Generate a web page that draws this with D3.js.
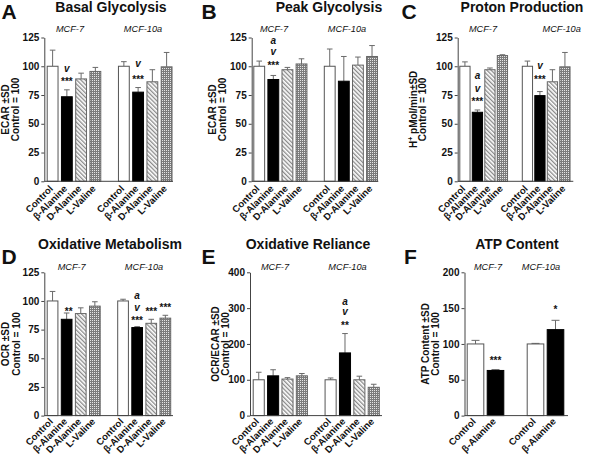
<!DOCTYPE html>
<html>
<head>
<meta charset="utf-8">
<script src="https://cdn.jsdelivr.net/npm/d3@7"></script>
<style>
  html, body { margin: 0; padding: 0; background: #fff; }
  svg { display: block; }
  text { font-family: "Liberation Sans", Arial, Helvetica, sans-serif; fill: #111; }
</style>
</head>
<body>
<svg id="chart" width="600" height="454"></svg>
<script>
// ---------------- DATA ----------------
const cellLines = ["MCF-7", "MCF-10a"];
const treatments = ["Control", "β-Alanine", "D-Alanine", "L-Valine"];
const treatmentsATP = ["Control", "β-Alanine"];

const ticks125 = [0, 25, 50, 75, 100, 125];
const ticks400 = [0, 100, 200, 300, 400];
const ticks200 = [0, 50, 100, 150, 200];

// A: Basal Glycolysis (mean, SD) per cell line
const basalMCF7 = [100, 73.5, 89, 95.5];
const basalMCF7SD = [14, 6, 5, 3.5];
const basalMCF10a = [100, 77.5, 86.5, 99.5];
const basalMCF10aSD = [4, 4, 10.5, 12.5];

// B: Peak Glycolysis
const peakMCF7 = [100, 88.5, 97, 102];
const peakMCF7SD = [4.5, 3.5, 2, 4.5];
const peakMCF10a = [100, 87, 101, 108.5];
const peakMCF10aSD = [15, 21.5, 7, 9.5];

// C: Proton Production
const protonMCF7 = [100, 60, 97, 109.3];
const protonMCF7SD = [3.8, 2, 1.5, 0.7];
const protonMCF10a = [100, 74.5, 86.5, 99.5];
const protonMCF10aSD = [4.5, 3.5, 10.5, 12.5];

// D: Oxidative Metabolism
const oxMCF7 = [100, 84, 89, 95.5];
const oxMCF7SD = [8.3, 5.5, 5, 3.8];
const oxMCF10a = [100, 76.8, 80.5, 85];
const oxMCF10aSD = [1.5, 0.8, 3.5, 2.5];

// E: Oxidative Reliance
const relMCF7 = [100, 111, 102, 111];
const relMCF7SD = [21, 17, 4, 6.5];
const relMCF10a = [100, 175, 100, 79];
const relMCF10aSD = [5, 54, 10, 8.5];

// F: ATP Content
const atpMCF7 = [100, 63];
const atpMCF7SD = [5, 1.2];
const atpMCF10a = [100, 120];
const atpMCF10aSD = [0.8, 13];

// significance marks: [cell line index, treatment index, text, value of baseline]
const basalMarks = [[0, 1, "v", 95.4], [0, 1, "***", 83.4], [1, 1, "v", 99.5], [1, 1, "***", 85.8]];
const peakMarks = [[0, 1, "a", 119.3], [0, 1, "v", 109.7], [0, 1, "***", 97.4]];
const protonMarks = [[0, 1, "a", 88.5], [0, 1, "v", 78], [0, 1, "***", 66], [1, 1, "v", 97.7], [1, 1, "***", 85.8]];
const oxMarks = [[0, 1, "**", 88], [1, 1, "a", 101.5], [1, 1, "v", 91], [1, 1, "***", 80], [1, 2, "***", 87.8], [1, 3, "***", 90.9]];
const relMarks = [[1, 1, "a", 310], [1, 1, "v", 280], [1, 1, "**", 242.5]];
const atpMarks = [[0, 1, "***", 72.1], [1, 1, "*", 143.2]];

// ---------------- LAYOUT ----------------
const svg = d3.select("#chart");
const defs = svg.append("defs");

// D-Alanine: diagonal hatch
const hatch = defs.append("pattern").attr("id", "hatch")
  .attr("patternUnits", "userSpaceOnUse").attr("width", 3).attr("height", 3)
  .attr("patternTransform", "rotate(-45)");
hatch.append("rect").attr("width", 3).attr("height", 3).attr("fill", "#ffffff");
hatch.append("rect").attr("width", 1.3).attr("height", 3).attr("fill", "#8a8a8a");

// L-Valine: dotted grid
const dots = defs.append("pattern").attr("id", "dots")
  .attr("patternUnits", "userSpaceOnUse").attr("width", 2).attr("height", 2);
dots.append("rect").attr("width", 2).attr("height", 2).attr("fill", "#7c7c7c");
dots.append("rect").attr("width", 1).attr("height", 1).attr("fill", "#e6e6e6");

const fills = {
  "Control": "#ffffff",
  "β-Alanine": "#000000",
  "D-Alanine": "url(#hatch)",
  "L-Valine": "url(#dots)"
};
const strokes = {
  "Control": "#555",
  "β-Alanine": "#000",
  "D-Alanine": "#666",
  "L-Valine": "#666"
};

function drawPanel(cfg) {
  const g = svg.append("g");
  const cats = cfg.cats;
  // slots: line0 categories, gap, line1 categories
  const slots = [];
  cellLines.forEach((cl, i) => {
    cats.forEach(c => slots.push(cl + "|" + c));
    if (i === 0) slots.push("gap");
  });
  const n = slots.length;
  const x = d3.scaleBand().domain(slots)
    .range([cfg.barStart, cfg.barStart + cfg.step * (n - cfg.inner)])
    .paddingInner(cfg.inner).paddingOuter(0);
  const y = d3.scaleLinear().domain([0, d3.max(cfg.ticks)]).range([cfg.yBot, cfg.yTop]);

  const data = [];
  cellLines.forEach((cl, i) => {
    cats.forEach((c, j) => {
      data.push({ key: cl + "|" + c, cat: c, v: cfg.means[i][j], sd: cfg.sds[i][j] });
    });
  });

  // error bars (upper only)
  const eb = g.append("g").attr("stroke", "#6a6a6a").attr("stroke-width", 1).attr("fill", "none");
  data.forEach(d => {
    const cx = x(d.key) + x.bandwidth() / 2;
    const cap = cfg.cap;
    eb.append("line").attr("x1", cx).attr("x2", cx).attr("y1", y(d.v)).attr("y2", y(d.v + d.sd));
    eb.append("line").attr("x1", cx - cap).attr("x2", cx + cap)
      .attr("y1", y(d.v + d.sd)).attr("y2", y(d.v + d.sd));
  });

  // bars
  g.append("g").selectAll("rect").data(data).join("rect")
    .attr("x", d => x(d.key) + 0.5)
    .attr("y", d => y(d.v))
    .attr("width", x.bandwidth() - 1)
    .attr("height", d => y(0) - y(d.v))
    .attr("fill", d => fills[d.cat])
    .attr("stroke", d => strokes[d.cat])
    .attr("stroke-width", 1);

  // y axis
  const ya = g.append("g").attr("transform", `translate(${cfg.x0},0)`)
    .call(d3.axisLeft(y).tickValues(cfg.ticks).tickSize(3).tickSizeOuter(0).tickPadding(2));
  ya.select(".domain").attr("stroke", "#444");
  ya.selectAll(".tick line").attr("stroke", "#444");
  ya.selectAll(".tick text").attr("font-size", 10).attr("font-weight", "bold")
    .attr("font-family", '"Liberation Sans", Arial, sans-serif').attr("fill", "#111");

  // x axis baseline
  g.append("line").attr("x1", cfg.x0).attr("x2", cfg.x1)
    .attr("y1", y(0)).attr("y2", y(0)).attr("stroke", "#444").attr("stroke-width", 1);

  // x axis labels
  const xa = g.append("g").attr("transform", `translate(0,${y(0)})`)
    .call(d3.axisBottom(x).tickValues(slots.filter(s => s !== "gap"))
      .tickFormat(s => s.split("|")[1]).tickSize(0));
  xa.select(".domain").remove();
  xa.selectAll(".tick text")
    .attr("x", 0).attr("y", 0).attr("dy", 0)
    .attr("transform", `translate(1,${cfg.xlabDy}) rotate(-45)`)
    .style("text-anchor", "end")
    .attr("font-size", 9.6).attr("font-weight", "bold")
    .attr("font-family", '"Liberation Sans", Arial, sans-serif').attr("fill", "#111");

  // significance marks
  cfg.marks.forEach(m => {
    const key = cellLines[m[0]] + "|" + cats[m[1]];
    const cx = x(key) + x.bandwidth() / 2 + (m[2] === "**" && m[0] === 0 && cfg.letter === "D" ? 2 : 0);
    const isLetter = (m[2] === "a" || m[2] === "v");
    g.append("text").attr("x", cx).attr("y", y(m[3]))
      .attr("text-anchor", "middle")
      .attr("font-size", 10)
      .attr("font-weight", "bold")
      .attr("font-style", isLetter ? "italic" : "normal")
      .text(m[2]);
  });

  // cell line subtitles
  cellLines.forEach((cl, i) => {
    g.append("text").attr("x", cfg.subX[i]).attr("y", cfg.subY)
      .attr("text-anchor", "middle").attr("font-size", 9.2).attr("font-style", "italic")
      .attr("fill", "#222").text(cl);
  });

  // title
  g.append("text").attr("x", cfg.titleX).attr("y", cfg.titleY)
    .attr("text-anchor", "middle").attr("font-size", 14).attr("font-weight", "bold")
    .text(cfg.title);

  // panel letter
  g.append("text").attr("x", cfg.letterX).attr("y", cfg.letterY)
    .attr("font-size", 21).attr("font-weight", "bold").text(cfg.letter);

  // y label (two lines)
  const yc = (cfg.yTop + cfg.yBot) / 2;
  const l1 = g.append("text")
    .attr("transform", `translate(${cfg.yl[0]},${yc}) rotate(-90)`)
    .attr("text-anchor", "middle").attr("font-size", 10).attr("font-weight", "bold");
  if (cfg.ylabelSup) {
    l1.append("tspan").text(cfg.ylabel1[0]);
    l1.append("tspan").attr("font-size", 7).attr("dy", -4).text(cfg.ylabel1[1]);
    l1.append("tspan").attr("dy", 4).text(cfg.ylabel1[2]);
  } else {
    l1.text(cfg.ylabel1);
  }
  g.append("text")
    .attr("transform", `translate(${cfg.yl[1]},${yc}) rotate(-90)`)
    .attr("text-anchor", "middle").attr("font-size", 10).attr("font-weight", "bold")
    .text("Control = 100");
}

const topY = { yTop: 37.5, yBot: 181.3, subY: 31.5, titleY: 12, letterY: 18.5, xlabDy: 8 };
const botY = { yTop: 272.3, yBot: 415.6, subY: 270.3, titleY: 249.3, letterY: 263.5, xlabDy: 6.5 };

drawPanel(Object.assign({
  letter: "A", title: "Basal Glycolysis", titleX: 111, letterX: 1.5,
  x0: 44.3, x1: 173, barStart: 46.7, step: 14.25, inner: 0.17, cap: 2.8,
  cats: treatments, ticks: ticks125,
  means: [basalMCF7, basalMCF10a], sds: [basalMCF7SD, basalMCF10aSD], marks: basalMarks,
  subX: [70, 143], ylabel1: "ECAR ±SD", yl: [9, 18.5]
}, topY));

drawPanel(Object.assign({
  letter: "B", title: "Peak Glycolysis", titleX: 329, letterX: 201.5,
  x0: 251.7, x1: 378.3, barStart: 253.3, step: 14.1, inner: 0.16, cap: 2.8,
  cats: treatments, ticks: ticks125,
  means: [peakMCF7, peakMCF10a], sds: [peakMCF7SD, peakMCF10aSD], marks: peakMarks,
  subX: [274, 347], ylabel1: "ECAR ±SD", yl: [215.7, 225.7]
}, topY));

drawPanel(Object.assign({
  letter: "C", title: "Proton Production", titleX: 522, letterX: 401.5,
  x0: 457.7, x1: 573.3, barStart: 459.3, step: 12.5, inner: 0.1, cap: 2.8,
  cats: treatments, ticks: ticks125,
  means: [protonMCF7, protonMCF10a], sds: [protonMCF7SD, protonMCF10aSD], marks: protonMarks,
  subX: [483, 561.7], ylabelSup: true, ylabel1: ["H", "+", " pMol/min±SD"], yl: [416.5, 425.7]
}, topY));

drawPanel(Object.assign({
  letter: "D", title: "Oxidative Metabolism", titleX: 110, letterX: 1.5,
  x0: 44.3, x1: 173, barStart: 46.7, step: 14.1, inner: 0.17, cap: 2.8,
  cats: treatments, ticks: ticks125,
  means: [oxMCF7, oxMCF10a], sds: [oxMCF7SD, oxMCF10aSD], marks: oxMarks,
  subX: [71.7, 144], ylabel1: "OCR ±SD", yl: [9, 20]
}, botY));

drawPanel(Object.assign({
  letter: "E", title: "Oxidative Reliance", titleX: 308, letterX: 201.5,
  x0: 250, x1: 382, barStart: 252.7, step: 14.375, inner: 0.16, cap: 2.8,
  cats: treatments, ticks: ticks400,
  means: [relMCF7, relMCF10a], sds: [relMCF7SD, relMCF10aSD], marks: relMarks,
  subX: [275, 347.5], ylabel1: "OCR/ECAR ±SD", yl: [219, 229]
}, botY));

drawPanel(Object.assign({
  letter: "F", title: "ATP Content", titleX: 517, letterX: 404,
  x0: 464.5, x1: 568, barStart: 466.7, step: 20, inner: 0.12, cap: 4,
  cats: treatmentsATP, ticks: ticks200,
  means: [atpMCF7, atpMCF10a], sds: [atpMCF7SD, atpMCF10aSD], marks: atpMarks,
  subX: [488, 541], ylabel1: "ATP Content ±SD", yl: [429, 439]
}, botY));
</script>
</body>
</html>
